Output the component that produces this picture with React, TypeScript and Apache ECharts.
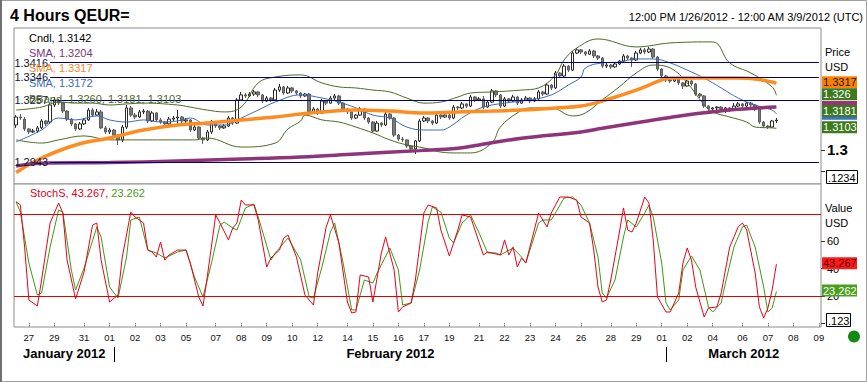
import React, { useEffect, useRef } from 'react';
import * as echarts from 'echarts';

const FONT = '"Liberation Sans", Arial, sans-serif';

// trading days: [month-day, first bar hour, number of 4h bars]
const tradingDays: [string, number, number][] = [
  ['01-26', 12, 3], ['01-27', 0, 6], ['01-29', 20, 1], ['01-30', 0, 6], ['01-31', 0, 6],
  ['02-01', 0, 6], ['02-02', 0, 6], ['02-03', 0, 6], ['02-05', 20, 1],
  ['02-06', 0, 6], ['02-07', 0, 6], ['02-08', 0, 6], ['02-09', 0, 6], ['02-10', 0, 6], ['02-12', 20, 1],
  ['02-13', 0, 6], ['02-14', 0, 6], ['02-15', 0, 6], ['02-16', 0, 6], ['02-17', 0, 6], ['02-19', 20, 1],
  ['02-20', 0, 6], ['02-21', 0, 6], ['02-22', 0, 6], ['02-23', 0, 6], ['02-24', 0, 6], ['02-26', 20, 1],
  ['02-27', 0, 6], ['02-28', 0, 6], ['02-29', 0, 6], ['03-01', 0, 6], ['03-02', 0, 6], ['03-04', 20, 1],
  ['03-05', 0, 6], ['03-06', 0, 6], ['03-07', 0, 6], ['03-08', 0, 6], ['03-09', 0, 1],
];
const hiddenDayLabels = ['01-30', '02-06', '02-13', '02-20', '02-27', '03-05'];
const months = [
  { key: '01', name: 'January 2012' },
  { key: '02', name: 'February 2012' },
  { key: '03', name: 'March 2012' },
];

// [open, close, low, high]
const candles: number[][] = [
  [1.3119, 1.3157, 1.3105, 1.3166], [1.3157, 1.3152, 1.3143, 1.3171], [1.3147, 1.3100, 1.3090, 1.3157],
  [1.3100, 1.3086, 1.3076, 1.3105], [1.3086, 1.3090, 1.3081, 1.3100], [1.3090, 1.3105, 1.3081, 1.3114],
  [1.3105, 1.3138, 1.3100, 1.3147], [1.3138, 1.3124, 1.3114, 1.3143], [1.3133, 1.3214, 1.3124, 1.3223],
  [1.3214, 1.3238, 1.3204, 1.3252], [1.3238, 1.3223, 1.3214, 1.3243], [1.3223, 1.3185, 1.3176, 1.3228],
  [1.3185, 1.3147, 1.3138, 1.3190], [1.3147, 1.3124, 1.3114, 1.3152], [1.3124, 1.3100, 1.3090, 1.3128],
  [1.3100, 1.3124, 1.3095, 1.3133], [1.3124, 1.3143, 1.3119, 1.3152], [1.3143, 1.3190, 1.3138, 1.3200],
  [1.3190, 1.3166, 1.3157, 1.3200], [1.3166, 1.3181, 1.3162, 1.3195], [1.3181, 1.3105, 1.3100, 1.3190],
  [1.3105, 1.3086, 1.3076, 1.3114], [1.3086, 1.3095, 1.3076, 1.3105], [1.3095, 1.3071, 1.3062, 1.3100],
  [1.3071, 1.3048, 1.3024, 1.3076], [1.3048, 1.3109, 1.3038, 1.3119], [1.3109, 1.3200, 1.3100, 1.3214],
  [1.3200, 1.3166, 1.3157, 1.3209], [1.3166, 1.3157, 1.3147, 1.3176], [1.3157, 1.3181, 1.3152, 1.3190],
  [1.3181, 1.3185, 1.3171, 1.3195], [1.3185, 1.3138, 1.3128, 1.3190], [1.3138, 1.3176, 1.3133, 1.3185],
  [1.3176, 1.3143, 1.3133, 1.3181], [1.3143, 1.3133, 1.3124, 1.3152], [1.3133, 1.3124, 1.3114, 1.3138],
  [1.3124, 1.3147, 1.3119, 1.3157], [1.3147, 1.3152, 1.3138, 1.3162], [1.3152, 1.3157, 1.3124, 1.3190],
  [1.3157, 1.3138, 1.3128, 1.3162], [1.3138, 1.3143, 1.3128, 1.3152], [1.3143, 1.3095, 1.3086, 1.3147],
  [1.3095, 1.3109, 1.3090, 1.3119], [1.3109, 1.3057, 1.3048, 1.3114], [1.3057, 1.3048, 1.3029, 1.3062],
  [1.3048, 1.3086, 1.3043, 1.3095], [1.3086, 1.3133, 1.3076, 1.3143], [1.3133, 1.3114, 1.3105, 1.3138],
  [1.3114, 1.3105, 1.3095, 1.3119], [1.3105, 1.3114, 1.3100, 1.3124], [1.3114, 1.3152, 1.3109, 1.3162],
  [1.3152, 1.3128, 1.3119, 1.3157], [1.3128, 1.3238, 1.3124, 1.3247], [1.3238, 1.3262, 1.3233, 1.3276],
  [1.3262, 1.3257, 1.3247, 1.3271], [1.3257, 1.3266, 1.3252, 1.3276], [1.3266, 1.3276, 1.3257, 1.3285],
  [1.3276, 1.3262, 1.3252, 1.3281], [1.3262, 1.3233, 1.3223, 1.3266], [1.3233, 1.3247, 1.3228, 1.3257],
  [1.3247, 1.3238, 1.3228, 1.3252], [1.3238, 1.3285, 1.3233, 1.3295], [1.3285, 1.3300, 1.3276, 1.3314],
  [1.3300, 1.3271, 1.3262, 1.3304], [1.3271, 1.3295, 1.3266, 1.3304], [1.3295, 1.3281, 1.3271, 1.3300],
  [1.3281, 1.3271, 1.3262, 1.3285], [1.3271, 1.3257, 1.3247, 1.3276], [1.3257, 1.3266, 1.3252, 1.3271],
  [1.3266, 1.3181, 1.3171, 1.3271], [1.3181, 1.3195, 1.3176, 1.3204], [1.3195, 1.3176, 1.3166, 1.3200],
  [1.3176, 1.3233, 1.3171, 1.3243], [1.3233, 1.3223, 1.3214, 1.3238], [1.3223, 1.3247, 1.3219, 1.3257],
  [1.3247, 1.3257, 1.3238, 1.3266], [1.3257, 1.3223, 1.3214, 1.3262], [1.3223, 1.3195, 1.3185, 1.3228],
  [1.3195, 1.3181, 1.3171, 1.3200], [1.3181, 1.3152, 1.3143, 1.3185], [1.3152, 1.3166, 1.3147, 1.3171],
  [1.3166, 1.3195, 1.3162, 1.3204], [1.3195, 1.3152, 1.3143, 1.3200], [1.3152, 1.3133, 1.3124, 1.3157],
  [1.3133, 1.3090, 1.3081, 1.3138], [1.3090, 1.3128, 1.3086, 1.3138], [1.3128, 1.3119, 1.3109, 1.3133],
  [1.3119, 1.3171, 1.3114, 1.3181], [1.3171, 1.3152, 1.3143, 1.3176], [1.3152, 1.3071, 1.3062, 1.3157],
  [1.3071, 1.3052, 1.3043, 1.3076], [1.3052, 1.3048, 1.3038, 1.3062], [1.3048, 1.3019, 1.3010, 1.3052],
  [1.3019, 1.3005, 1.2995, 1.3024], [1.3005, 1.3043, 1.2981, 1.3048], [1.3043, 1.3138, 1.3038, 1.3147],
  [1.3138, 1.3152, 1.3133, 1.3162], [1.3152, 1.3138, 1.3128, 1.3157], [1.3138, 1.3128, 1.3119, 1.3143],
  [1.3128, 1.3166, 1.3124, 1.3176], [1.3166, 1.3157, 1.3147, 1.3171], [1.3157, 1.3166, 1.3152, 1.3176],
  [1.3166, 1.3152, 1.3143, 1.3171], [1.3152, 1.3204, 1.3147, 1.3214], [1.3204, 1.3200, 1.3190, 1.3209],
  [1.3200, 1.3219, 1.3195, 1.3228], [1.3219, 1.3209, 1.3200, 1.3223], [1.3209, 1.3252, 1.3204, 1.3262],
  [1.3252, 1.3238, 1.3228, 1.3257], [1.3238, 1.3243, 1.3233, 1.3252], [1.3243, 1.3204, 1.3195, 1.3257],
  [1.3204, 1.3228, 1.3200, 1.3238], [1.3228, 1.3281, 1.3223, 1.3290], [1.3281, 1.3262, 1.3252, 1.3285],
  [1.3262, 1.3209, 1.3200, 1.3266], [1.3209, 1.3243, 1.3204, 1.3252], [1.3243, 1.3233, 1.3223, 1.3247],
  [1.3233, 1.3252, 1.3228, 1.3262], [1.3252, 1.3223, 1.3214, 1.3257], [1.3223, 1.3238, 1.3219, 1.3247],
  [1.3238, 1.3247, 1.3233, 1.3257], [1.3247, 1.3233, 1.3223, 1.3252], [1.3233, 1.3243, 1.3228, 1.3252],
  [1.3243, 1.3276, 1.3238, 1.3285], [1.3276, 1.3266, 1.3257, 1.3281], [1.3266, 1.3309, 1.3262, 1.3319],
  [1.3309, 1.3295, 1.3285, 1.3314], [1.3295, 1.3366, 1.3290, 1.3376], [1.3366, 1.3352, 1.3342, 1.3371],
  [1.3352, 1.3399, 1.3347, 1.3409], [1.3399, 1.3380, 1.3371, 1.3404], [1.3380, 1.3461, 1.3376, 1.3471],
  [1.3461, 1.3476, 1.3456, 1.3485], [1.3476, 1.3466, 1.3456, 1.3480], [1.3466, 1.3456, 1.3447, 1.3471],
  [1.3456, 1.3471, 1.3452, 1.3480], [1.3471, 1.3447, 1.3437, 1.3476], [1.3447, 1.3437, 1.3428, 1.3452],
  [1.3437, 1.3399, 1.3390, 1.3442], [1.3399, 1.3404, 1.3390, 1.3414], [1.3404, 1.3395, 1.3385, 1.3409],
  [1.3395, 1.3409, 1.3390, 1.3418], [1.3409, 1.3423, 1.3404, 1.3428], [1.3423, 1.3447, 1.3418, 1.3456],
  [1.3447, 1.3437, 1.3428, 1.3452], [1.3437, 1.3428, 1.3395, 1.3442], [1.3428, 1.3461, 1.3423, 1.3471],
  [1.3461, 1.3476, 1.3456, 1.3485], [1.3476, 1.3466, 1.3456, 1.3485], [1.3466, 1.3480, 1.3461, 1.3490],
  [1.3480, 1.3442, 1.3433, 1.3485], [1.3442, 1.3385, 1.3376, 1.3447], [1.3385, 1.3352, 1.3342, 1.3390],
  [1.3352, 1.3333, 1.3323, 1.3357], [1.3333, 1.3328, 1.3319, 1.3338], [1.3328, 1.3338, 1.3323, 1.3342],
  [1.3338, 1.3319, 1.3309, 1.3342], [1.3319, 1.3304, 1.3290, 1.3323], [1.3304, 1.3328, 1.3300, 1.3333],
  [1.3328, 1.3314, 1.3304, 1.3333], [1.3314, 1.3266, 1.3257, 1.3319], [1.3266, 1.3257, 1.3247, 1.3271],
  [1.3257, 1.3209, 1.3200, 1.3262], [1.3209, 1.3195, 1.3185, 1.3214], [1.3195, 1.3200, 1.3185, 1.3204],
  [1.3200, 1.3204, 1.3190, 1.3209], [1.3204, 1.3195, 1.3185, 1.3209], [1.3195, 1.3200, 1.3176, 1.3204],
  [1.3200, 1.3190, 1.3181, 1.3204], [1.3190, 1.3209, 1.3185, 1.3223], [1.3209, 1.3219, 1.3204, 1.3228],
  [1.3219, 1.3209, 1.3200, 1.3223], [1.3209, 1.3223, 1.3204, 1.3228], [1.3223, 1.3214, 1.3204, 1.3228],
  [1.3214, 1.3195, 1.3185, 1.3219], [1.3195, 1.3133, 1.3124, 1.3200], [1.3133, 1.3114, 1.3105, 1.3138],
  [1.3114, 1.3109, 1.3100, 1.3119], [1.3109, 1.3138, 1.3105, 1.3143], [1.3138, 1.3142, 1.3128, 1.3152],
];

// indicator lines: [bar index, value] read at intervals
const smaPurple: [number, number][] = [
  [0, 1.2924], [6, 1.2937], [22, 1.2940], [38, 1.2948], [53, 1.2957], [67, 1.2967], [80, 1.2981],
  [95, 1.2997], [104, 1.3008], [109, 1.3024], [119, 1.3056], [133, 1.3086], [138, 1.3103],
  [146, 1.3130], [154, 1.3155], [162, 1.3177], [170, 1.3194], [179, 1.3204],
];
const smaOrange: [number, number][] = [
  [0, 1.2893], [6, 1.2962], [14, 1.3024], [22, 1.3057], [30, 1.3095], [38, 1.3119], [45, 1.3128],
  [53, 1.3143], [61, 1.3157], [67, 1.3171], [72, 1.3181], [80, 1.3190], [88, 1.3185], [96, 1.3176],
  [104, 1.3181], [112, 1.3185], [119, 1.3190], [127, 1.3200], [133, 1.3209], [138, 1.3233],
  [146, 1.3285], [152, 1.3333], [154, 1.3342], [162, 1.3342], [170, 1.3342], [174, 1.3338],
  [178, 1.3323], [179, 1.3317],
];
const smaBlue: [number, number][] = [
  [0, 1.3039], [6, 1.3095], [10, 1.3152], [14, 1.3143], [19, 1.3162], [22, 1.3143], [26, 1.3133],
  [30, 1.3143], [34, 1.3133], [38, 1.3138], [41, 1.3152], [45, 1.3119], [49, 1.3119], [53, 1.3152],
  [57, 1.3190], [61, 1.3228], [67, 1.3262], [72, 1.3247], [76, 1.3228], [80, 1.3200], [84, 1.3166],
  [88, 1.3152], [92, 1.3109], [96, 1.3095], [100, 1.3095], [102, 1.3109], [106, 1.3166],
  [110, 1.3204], [115, 1.3223], [121, 1.3238], [126, 1.3262], [130, 1.3309], [133, 1.3347],
  [134, 1.3390], [138, 1.3414], [142, 1.3418], [146, 1.3433], [150, 1.3433], [154, 1.3414],
  [158, 1.3380], [162, 1.3342], [166, 1.3295], [170, 1.3247], [174, 1.3214], [178, 1.3190],
  [179, 1.3172],
];
const bbUpper: [number, number][] = [
  [0, 1.3190], [6, 1.3204], [10, 1.3228], [14, 1.3223], [18, 1.3223], [22, 1.3214], [26, 1.3219],
  [30, 1.3223], [38, 1.3214], [41, 1.3204], [45, 1.3190], [49, 1.3181], [53, 1.3204], [57, 1.3319],
  [61, 1.3347], [67, 1.3357], [72, 1.3319], [76, 1.3300], [80, 1.3295], [84, 1.3285], [88, 1.3276],
  [92, 1.3247], [96, 1.3223], [100, 1.3228], [104, 1.3252], [107, 1.3271], [112, 1.3276],
  [119, 1.3285], [123, 1.3295], [127, 1.3357], [129, 1.3428], [132, 1.3485], [137, 1.3528],
  [146, 1.3490], [154, 1.3509], [164, 1.3514], [168, 1.3414], [173, 1.3366], [178, 1.3300],
  [179, 1.3260],
];
const bbLower: [number, number][] = [
  [0, 1.3048], [6, 1.3033], [10, 1.3048], [16, 1.3067], [22, 1.3048], [26, 1.3048], [36, 1.3048],
  [42, 1.3048], [45, 1.3057], [53, 1.3014], [61, 1.3033], [64, 1.3100], [67, 1.3138], [68, 1.3166],
  [72, 1.3143], [76, 1.3133], [80, 1.3109], [84, 1.3081], [88, 1.3048], [92, 1.3024], [96, 1.3010],
  [100, 1.2990], [104, 1.2986], [107, 1.2986], [112, 1.3033], [114, 1.3109], [118, 1.3176],
  [121, 1.3200], [126, 1.3200], [131, 1.3162], [134, 1.3176], [138, 1.3238], [142, 1.3300],
  [146, 1.3366], [150, 1.3404], [154, 1.3390], [158, 1.3319], [162, 1.3214], [164, 1.3181],
  [168, 1.3157], [172, 1.3133], [174, 1.3109], [178, 1.3105], [179, 1.3103],
];
const priceLevels = [1.3416, 1.3346, 1.3237, 1.2943];
const priceLevelLabels = ['1.3416', '1.3346', '1.3257', '1.2943'];

const stochK: [number, number][] = [
  [0, 89.0], [1, 86.6], [2, 55.8], [3, 17.1], [5, 12.7], [6, 31.7], [8, 73.4], [10, 88.0], [11, 80.7],
  [12, 46.3], [14, 17.8], [16, 37.6], [18, 71.9], [19, 73.4], [20, 46.3], [22, 15.6], [24, 20.7],
  [25, 48.5], [27, 81.4], [28, 77.8], [30, 73.4], [31, 53.6], [32, 52.2], [33, 48.5], [34, 59.5],
  [35, 46.3], [36, 50.0], [38, 53.6], [40, 53.6], [41, 44.1], [43, 19.3], [44, 12.7], [45, 33.9],
  [47, 79.3], [48, 73.4], [50, 61.0], [51, 69.7], [52, 73.4], [53, 90.2], [54, 86.6], [56, 86.6],
  [57, 75.6], [59, 41.2], [60, 47.8], [62, 53.6], [63, 62.4], [64, 64.6], [66, 48.5], [68, 20.7],
  [70, 13.4], [71, 36.8], [73, 70.5], [74, 79.3], [76, 58.8], [78, 15.6], [79, 7.6], [80, 8.3],
  [81, 35.4], [83, 33.9], [84, 15.6], [86, 51.5], [87, 63.2], [89, 39.0], [90, 8.3], [91, 12.0],
  [93, 14.9], [94, 31.7], [96, 80.7], [97, 86.6], [99, 84.4], [100, 68.3], [102, 49.3], [104, 68.3],
  [105, 79.3], [107, 77.8], [110, 50.0], [111, 52.2], [114, 50.0], [115, 61.0], [116, 50.0],
  [117, 55.8], [118, 41.2], [119, 47.8], [120, 44.1], [122, 68.3], [123, 80.7], [125, 70.5],
  [126, 80.7], [128, 92.4], [130, 92.4], [132, 90.2], [133, 77.8], [135, 73.4], [136, 53.6],
  [137, 26.6], [138, 15.6], [139, 17.1], [140, 31.7], [142, 66.1], [143, 84.4], [144, 68.3],
  [145, 66.8], [146, 73.4], [148, 92.4], [149, 88.0], [150, 61.0], [151, 19.3], [153, 8.3],
  [154, 8.3], [156, 22.2], [157, 44.1], [158, 55.1], [159, 46.3], [160, 26.6], [162, 4.6],
  [163, 11.2], [165, 12.0], [166, 22.2], [168, 55.8], [170, 70.5], [171, 73.4], [172, 68.3],
  [174, 36.8], [175, 12.0], [176, 3.9], [177, 11.2], [178, 24.4], [179, 43.267],
];
const stochD: [number, number][] = [
  [0, 88.8], [1, 81.4], [3, 44.1], [5, 20.7], [6, 22.2], [8, 55.8], [10, 82.9], [11, 81.4],
  [13, 39.0], [14, 24.4], [16, 40.5], [19, 70.5], [20, 63.2], [22, 26.6], [24, 18.5], [26, 48.5],
  [27, 75.6], [29, 77.8], [31, 53.6], [33, 51.5], [35, 47.8], [38, 52.2], [40, 53.6], [42, 33.9],
  [44, 19.3], [46, 44.1], [48, 71.9], [49, 74.1], [51, 69.7], [52, 68.3], [54, 84.4], [56, 87.3],
  [57, 77.8], [60, 46.3], [61, 51.5], [64, 62.4], [67, 46.3], [69, 19.3], [70, 18.5], [72, 41.2],
  [74, 66.8], [75, 73.4], [77, 44.1], [79, 9.8], [80, 9.8], [82, 31.7], [84, 29.5], [85, 36.8],
  [88, 55.1], [90, 39.0], [91, 13.4], [93, 14.9], [95, 39.0], [97, 74.1], [98, 85.1], [100, 81.4],
  [102, 62.4], [103, 58.8], [105, 73.4], [107, 79.3], [109, 66.1], [111, 51.5], [113, 51.5],
  [114, 50.0], [117, 55.1], [119, 48.5], [120, 44.1], [123, 73.4], [124, 75.6], [126, 75.6],
  [129, 91.7], [131, 92.4], [133, 86.6], [135, 73.4], [137, 48.5], [138, 22.2], [139, 18.5],
  [141, 31.7], [143, 63.2], [144, 75.6], [146, 70.5], [148, 80.7], [149, 86.6], [150, 77.8],
  [152, 44.1], [153, 14.9], [154, 9.8], [156, 17.1], [157, 39.0], [159, 49.3], [161, 39.0],
  [163, 12.0], [164, 8.3], [166, 14.9], [167, 29.5], [169, 55.8], [171, 70.5], [172, 71.9],
  [174, 55.8], [176, 26.6], [177, 8.3], [178, 11.2], [179, 23.262],
];
const stochLevels = [80, 20];

const legendLines = [
  { text: 'Cndl, 1.3142', color: '#000000' },
  { text: 'SMA, 1.3204', color: '#7d357d' },
  { text: 'SMA, 1.3317', color: '#f08c28' },
  { text: 'SMA, 1.3172', color: '#3c6cb4' },
  { text: 'BBand, 1.3260, 1.3181, 1.3103', color: '#4d6a22' },
];

// tags on the price axis: value, colour, shown text
const priceTags = [
  { v: 1.3204, color: '#993377', text: '' },
  { v: 1.3172, color: '#3c6fc8', text: '' },
  { v: 1.3317, color: '#ff8000', text: '1.3317', tc: '#1a1a1a' },
  { v: 1.326, color: '#3c7a1e', text: '1.326', tc: '#ffffff' },
  { v: 1.3181, color: '#3c7a1e', text: '1.3181', tc: '#ffffff' },
  { v: 1.3103, color: '#3c7a1e', text: '1.3103', tc: '#ffffff' },
];
const stochTags = [
  { v: 43.267, color: '#ff1a1a', text: '43.267', tc: '#5a0000' },
  { v: 23.262, color: '#4aa01e', text: '23.262', tc: '#ffffff' },
];

const categories: string[] = [];
tradingDays.forEach(([md, h0, n]) => {
  for (let k = 0; k < n; k++) {
    const hh = h0 + k * 4;
    categories.push(`2012-${md} ${hh < 10 ? '0' + hh : hh}:00`);
  }
});
const isDayStart = (idx: number) => idx === 0 || categories[idx].slice(5, 10) !== categories[idx - 1].slice(5, 10);
const showDayLabel = (idx: number) => {
  if (idx === 0) return false;
  const md = categories[idx].slice(5, 10);
  return isDayStart(idx) && hiddenDayLabels.indexOf(md) < 0;
};

export default function App() {
  const ref = useRef<HTMLDivElement>(null);
  useEffect(() => {
    document.body.style.margin = '0';
    const chart = echarts.init(ref.current!, undefined, { renderer: 'svg' });
    const lineS = (data: [number, number][], color: string, width: number, smooth: number | boolean, xi = 0) => ({
      type: 'line', xAxisIndex: xi, yAxisIndex: xi, data, showSymbol: false, symbol: 'none',
      smooth, lineStyle: { color, width }, silent: true, z: 3,
    });
    const option: any = {
      animation: false,
      backgroundColor: '#ffffff',
      textStyle: { fontFamily: FONT },
      grid: [
        { left: 14, right: 46, top: 28, height: 156, show: true, borderColor: '#8c8c8c', borderWidth: 1, backgroundColor: '#fff' },
        { left: 14, right: 46, top: 184, height: 143, show: true, borderColor: '#8c8c8c', borderWidth: 1, backgroundColor: '#fff' },
      ],
      xAxis: [
        { type: 'category', gridIndex: 0, data: categories, boundaryGap: true, show: false },
        {
          type: 'category', gridIndex: 1, data: categories, boundaryGap: true,
          axisLine: { show: false },
          axisTick: { show: true, interval: (i: number) => showDayLabel(i), alignWithLabel: true, length: 4, lineStyle: { color: '#444', type: 'dotted' } },
          axisLabel: {
            interval: (i: number) => showDayLabel(i), formatter: (v: string) => v.slice(8, 10),
            fontSize: 9.5, color: '#111', margin: 5, fontFamily: FONT,
          },
          splitLine: { show: false },
        },
      ],
      yAxis: [
        {
          type: 'value', gridIndex: 0, position: 'right', min: 1.28383, max: 1.35801, scale: true,
          splitLine: { show: false }, axisLine: { show: false },
          axisTick: { show: true, customValues: [1.29, 1.3], length: 4, lineStyle: { color: '#333' } },
          axisLabel: { customValues: [1.3], formatter: () => '1.3', fontSize: 15, fontWeight: 'bold', color: '#000', margin: 6, fontFamily: FONT },
        },
        {
          type: 'value', gridIndex: 1, position: 'right', min: -2.68, max: 101.93,
          splitLine: { show: false }, axisLine: { show: false },
          axisTick: { show: true, customValues: [0, 20, 40, 60], length: 4, lineStyle: { color: '#333' } },
          axisLabel: { customValues: [20, 40, 60], fontSize: 11, color: '#000', margin: 6, fontFamily: FONT },
        },
      ],
      series: [
        {
          type: 'candlestick', xAxisIndex: 0, yAxisIndex: 0, data: candles, barWidth: 3, silent: true, z: 2,
          itemStyle: { color: '#ffffff', color0: '#7a7a7a', borderColor: '#2a2a2a', borderColor0: '#5c5c5c', borderWidth: 1 },
          markLine: {
            silent: true, symbol: ['none', 'none'], animation: false,
            lineStyle: { color: '#000080', width: 1, type: 'solid' },
            label: { show: true, position: 'start', formatter: '{b}', color: '#10103a', fontSize: 11, distance: 2, fontFamily: FONT },
            data: priceLevels.map((v, k) => [
              { coord: [8, v], name: priceLevelLabels[k] },
              { coord: [189, v] },
            ]),
          },
        },
        lineS(bbUpper, '#4d6a22', 1, 0.4),
        lineS(bbLower, '#4d6a22', 1, 0.4),
        lineS(smaBlue, '#3c6cb4', 1, 0.4),
        lineS(smaOrange, '#ff8c1e', 3.5, 0.4),
        lineS(smaPurple, '#8e3478', 3.5, 0.4),
        {
          ...lineS(stochK, '#e8001c', 1, false, 1), z: 4,
          markLine: {
            silent: true, symbol: ['none', 'none'], label: { show: false },
            lineStyle: { color: '#e00000', width: 1, type: 'solid' },
            data: stochLevels.map((v) => ({ yAxis: v })),
          },
        },
        lineS(stochD, '#3c9a14', 1, false, 1),
      ],
    };
    chart.setOption(option);

    const py0 = (v: number) => chart.convertToPixel({ yAxisIndex: 0 }, v) as number;
    const py1 = (v: number) => chart.convertToPixel({ yAxisIndex: 1 }, v) as number;
    const px = (i: number) => chart.convertToPixel({ xAxisIndex: 1 }, i) as number;
    const barW = px(1) - px(0);

    const txt = (text: string, x: number, y: number, size: number, color: string, extra: any = {}) => ({
      type: 'text', x, y, z: 100,
      style: { text, fill: color, fontSize: size, fontFamily: FONT, verticalAlign: 'middle', align: 'left', ...extra },
    });
    const tag = (y: number, color: string, text: string, tc?: string) => ({
      type: 'group', z: 100,
      children: [
        { type: 'rect', z: 100, shape: { x: 822, y: y - 6, width: 35, height: 12 }, style: { fill: color } },
        ...(text ? [{ type: 'text', z: 101, x: 823, y, style: { text, fill: tc, fontSize: 11, fontFamily: FONT, verticalAlign: 'middle', align: 'left' } }] : []),
      ],
    });

    const graphics: any[] = [];
    graphics.push({ type: 'rect', z: 0, shape: { x: 0.5, y: 0.5, width: 866, height: 381 }, style: { fill: 'none', stroke: '#a0a0a0', lineWidth: 1 } });
    graphics.push({ type: 'rect', z: 0, shape: { x: 0, y: 0, width: 2, height: 382 }, style: { fill: '#707070' } });
    graphics.push(txt('4 Hours QEUR=', 10, 15, 16, '#000', { fontWeight: 'bold' }));
    graphics.push(txt('12:00 PM 1/26/2012 - 12:00 AM 3/9/2012 (UTC)', 863, 17, 11, '#000', { align: 'right' }));
    legendLines.forEach((l, k) => graphics.push(txt(l.text, 29, [38, 53, 68, 83, 99][k], 11, l.color)));
    graphics.push({
      type: 'text', x: 30, y: 193, z: 100,
      style: {
        text: '{r|StochS, 43.267, }{g|23.262}', fontSize: 11, fontFamily: FONT, verticalAlign: 'middle', align: 'left',
        rich: { r: { fill: '#e0001c', fontSize: 11, fontFamily: FONT }, g: { fill: '#4a9a1a', fontSize: 11, fontFamily: FONT } },
      },
    });
    graphics.push(txt('Price', 825, 52, 11, '#000'));
    graphics.push(txt('USD', 825, 67, 11, '#000'));
    graphics.push(txt('Value', 825, 207.5, 11, '#000'));
    graphics.push(txt('USD', 825, 223, 11, '#000'));
    priceTags.forEach((t) => graphics.push(tag(py0(t.v) - (t.text ? 1 : 0), t.color, t.text, t.tc)));
    stochTags.forEach((t) => graphics.push(tag(py1(t.v) - 1, t.color, t.text, t.tc)));
    // precision boxes
    graphics.push({ type: 'rect', z: 100, shape: { x: 826.5, y: 170.5, width: 31, height: 13 }, style: { fill: '#fff', stroke: '#000', lineWidth: 1 } });
    graphics.push(txt('.1234', 828, 177.5, 11, '#000'));
    graphics.push({ type: 'rect', z: 100, shape: { x: 826.5, y: 313.5, width: 24, height: 13 }, style: { fill: '#fff', stroke: '#000', lineWidth: 1 } });
    graphics.push(txt('.123', 828, 320.5, 11, '#000'));
    // month separators and labels
    const gridL = 14, gridR = 821;
    const seps: number[] = [];
    months.forEach((m, k) => {
      if (k === 0) return;
      const first = categories.findIndex((c) => c.slice(5, 7) === m.key);
      seps.push(Math.round(px(first) + barW) + 0.5);
    });
    seps.forEach((x) => graphics.push({ type: 'line', z: 100, shape: { x1: x, y1: 347, x2: x, y2: 362 }, style: { stroke: '#000', lineWidth: 1 } }));
    const bounds = [gridL, ...seps, gridR];
    months.forEach((m, k) => {
      graphics.push(txt(m.name, (bounds[k] + bounds[k + 1]) / 2, 353, 13, '#000', { fontWeight: 'bold', align: 'center' }));
    });
    graphics.push({ type: 'circle', z: 100, shape: { cx: 854, cy: 336.5, r: 6 }, style: { fill: '#128a12' } });

    chart.setOption({ graphic: graphics });
    return () => chart.dispose();
  }, []);
  return <div ref={ref} style={{ width: 867, height: 382 }} />;
}
